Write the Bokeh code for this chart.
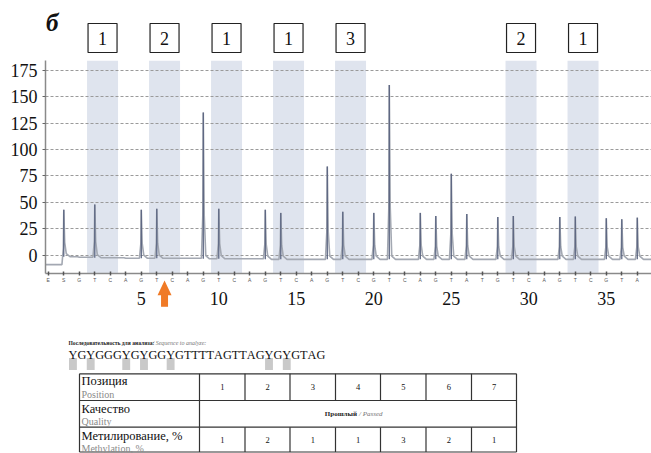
from bokeh.plotting import figure
from bokeh.layouts import column
from bokeh.models import Range1d, FixedTicker, LinearAxis, BoxAnnotation
from bokeh.core.properties import value
from bokeh.embed import file_html
from bokeh.resources import INLINE

# ---------------- data ----------------
DISP_POS = list(range(-1, 38))
DISPENSATIONS = ["E", "S",
                 "G", "T", "C", "A", "G", "T", "C", "A", "G", "T", "C", "A", "G", "T", "C", "A",
                 "G", "T", "C", "G", "T", "C", "A", "G", "T", "A", "T", "G", "T", "C", "A", "G",
                 "T", "C", "G", "T", "A"]
BASELINE = [-9, -1.5, -2, -2.5, -2.5, -3, -3, -3, -3, -3, -3.5, -3.5, -3.5, -3.5, -4, -4, -4, -4,
            -4, -4, -4, -4, -4, -4, -4, -4, -4, -4, -4, -4, -4, -4, -4, -4, -4, -4, -4, -4, -4]
PEAK_POS = [0, 2, 5, 6, 9, 10, 13, 14, 17, 18, 20, 21, 23, 24, 25, 26, 28, 29, 32, 33, 35, 36, 37]
PEAK_HEIGHT = [43, 48, 43, 44, 135, 44, 43, 40, 84, 41, 40, 161, 40, 37, 77, 39, 36, 37, 36, 36.5,
               35, 34, 35.5]
Y_TICKS = [0, 25, 50, 75, 100, 125, 150, 175]
X_TICKS = [5, 10, 15, 20, 25, 30, 35]

CPG_POSITIONS = [1, 2, 3, 4, 5, 6, 7]
CPG_T_DISP = [2, 6, 10, 14, 18, 29, 33]     # T dispensation of each C/T pair
METHYLATION = [1, 2, 1, 1, 3, 2, 1]
QUALITY_RU, QUALITY_EN = "Прошлый", "/ Passed"
SEQUENCE = "YGYGGGYGYGGYGTTTTAGTTAGYGYGTAG"
ARROW_POS = 6.5

# ---------------- layout constants ----------------
W = 651
LEFT = 45
X0 = -1.18
PXU = 15.5
X1 = X0 + (W - LEFT) / PXU
Y0, Y1 = -17.4, 184.3
COND = value("Liberation Sans Narrow")
SERIF = value("Liberation Serif")


def bare(fig):
    fig.grid.visible = False
    return fig


# ---------------- header (boxes) ----------------
ph = bare(figure(width=W, height=60, x_range=Range1d(X0, X1), y_range=Range1d(0, 60),
                 output_backend="svg", toolbar_location=None, min_border=0,
                 min_border_left=LEFT, x_axis_location=None, y_axis_location=None,
                 outline_line_color=None))
bx = [t + 0.5 for t in CPG_T_DISP]
ph.rect(x=bx, y=22.5, width=29, height=29, width_units="screen", height_units="screen",
        fill_color="white", line_color="#222222", line_width=1.2)
ph.text(x=bx, y=[22.5] * len(bx), text=[str(m) for m in METHYLATION], text_align="center",
        text_baseline="middle", text_font=COND, text_font_size="18px", text_color="#111111")
ph.text(x=[X0 + 0.5 / PXU], y=[38.5], text=["б"], text_font=SERIF, text_font_style="bold italic",
        text_font_size="25px", text_baseline="middle", text_color="#111111")

# ---------------- pyrogram ----------------
p = figure(width=W, height=247, x_range=Range1d(X0, X1), y_range=Range1d(Y0, Y1),
           output_backend="svg", toolbar_location=None, min_border_left=LEFT,
           min_border_right=0, min_border_top=0, min_border_bottom=30,
           outline_line_color=None)
p.xgrid.visible = False
p.ygrid.ticker = FixedTicker(ticks=Y_TICKS)
p.ygrid.grid_line_color = "#9a9a9a"
p.ygrid.grid_line_dash = "3 2"
p.ygrid.grid_line_width = 1
p.ygrid.level = "underlay"

for t in CPG_T_DISP:
    p.add_layout(BoxAnnotation(left=t - 0.5, right=t + 1.5, fill_color="#dfe4ee", fill_alpha=1,
                               line_color=None, level="image"))

yax = p.yaxis[0]
yax.ticker = FixedTicker(ticks=Y_TICKS)
yax.axis_line_color = "#8a8a8a"
yax.axis_line_width = 1.5
yax.major_tick_out = 3
yax.major_tick_in = 0
yax.major_tick_line_color = "#666666"
yax.minor_tick_line_color = None
yax.major_label_text_font = "Liberation Sans Narrow"
yax.major_label_text_font_size = "18px"
yax.major_label_text_color = "#111111"
yax.major_label_standoff = 5

xax = p.xaxis[0]
xax.ticker = FixedTicker(ticks=DISP_POS)
xax.major_label_overrides = {pos: d for pos, d in zip(DISP_POS, DISPENSATIONS)}
xax.axis_line_color = "#8a8a8a"
xax.axis_line_width = 1.5
xax.major_tick_in = 2
xax.major_tick_out = 2
xax.major_tick_line_color = "#555555"
xax.major_tick_line_width = 1.5
xax.minor_tick_line_color = None
xax.major_label_text_font_size = "5px"
xax.major_label_text_color = "#555555"
xax.major_label_standoff = 1

xax2 = LinearAxis(ticker=FixedTicker(ticks=X_TICKS), axis_line_color=None,
                  major_tick_line_color=None, minor_tick_line_color=None,
                  major_label_text_font="Liberation Sans Narrow",
                  major_label_text_font_size="18px", major_label_text_color="#111111",
                  major_label_standoff=0)
p.add_layout(xax2, "below")

# trace built from the peak heights
base = dict(zip(DISP_POS, BASELINE))
peaks = dict(zip(PEAK_POS, PEAK_HEIGHT))
tx, ty = [X0], [base[-1]]
prev = base[-1]
for pos in DISP_POS[1:]:
    b = base[pos]
    tx.append(pos - 0.12)
    ty.append(prev)
    if pos in peaks:
        h = peaks[pos]
        tx += [pos - 0.03, pos, pos + 0.06, pos + 0.16, pos + 0.4]
        ty += [prev + 0.3 * (h - prev), h, b + 0.3 * (h - b), b + 3, b]
    else:
        tx.append(pos)
        ty.append(b)
    prev = b
tx.append(X1)
ty.append(prev)
p.line(tx, ty, line_color="#a3a8b2", line_width=1.6)
p.segment(x0=PEAK_POS, y0=[base[q] for q in PEAK_POS], x1=PEAK_POS, y1=PEAK_HEIGHT,
          line_color="#56607e", line_width=1.2)

# orange arrow below the axis (overlay level glyph: drawn outside the frame)
aw, sw = 7 / PXU, 3.5 / PXU
p.patch(x=[ARROW_POS, ARROW_POS + aw, ARROW_POS + sw, ARROW_POS + sw,
           ARROW_POS - sw, ARROW_POS - sw, ARROW_POS - aw],
        y=[-24, -38, -38, -49, -49, -38, -38],
        fill_color="#f07a26", fill_alpha=1, line_color=None, level="overlay")
p.patch(x=[ARROW_POS + sw, ARROW_POS + sw, ARROW_POS - sw, ARROW_POS - sw],
        y=[-49, -55, -55, -49],
        fill_color="#f07a26", fill_alpha=0.45, line_color=None, level="overlay")

# ---------------- sequence + table ----------------
pl = bare(figure(width=W, height=146, x_range=Range1d(LEFT, W), y_range=Range1d(453, 307),
                 output_backend="svg", toolbar_location=None, min_border=0,
                 min_border_left=LEFT, x_axis_location=None, y_axis_location=None,
                 outline_line_color=None))

pl.text(x=[68], y=[342], text=["Последовательность для анализа:"], text_font=COND,
        text_font_style="bold", text_font_size="5.6px", text_baseline="middle",
        text_color="#222222")
pl.text(x=[152], y=[342], text=["/ Sequence to analyze:"], text_font=COND,
        text_font_style="italic", text_font_size="6px", text_baseline="middle",
        text_color="#777777")

ADV = {"Y": 0.722, "G": 0.722, "T": 0.611, "A": 0.722}
FS = 12.3
cx, xs = 68.0, []
for ch in SEQUENCE:
    xs.append(cx)
    cx += ADV[ch] * FS
ycap = 354.5
hl = [i for i, ch in enumerate(SEQUENCE) if ch == "Y"]
pl.quad(left=[xs[i] + 0.5 for i in hl], right=[xs[i] + ADV["Y"] * FS - 0.5 for i in hl],
        top=[ycap + 3] * len(hl), bottom=[ycap + 15] * len(hl),
        fill_color="#c9c9c9", line_color=None)
pl.text(x=xs, y=[ycap] * len(xs), text=list(SEQUENCE), text_font=SERIF,
        text_font_size=f"{FS}px", text_baseline="middle", text_color="#111111")

COLS = [79, 199, 244.5, 289.5, 335, 380, 425.5, 471, 516]
ROWS = [373.3, 400, 426.7, 451.5]
LC = "#333333"
pl.segment(x0=[COLS[0]] * 4, y0=ROWS, x1=[COLS[-1]] * 4, y1=ROWS, line_color=LC, line_width=1.2)
pl.segment(x0=[COLS[0], COLS[1], COLS[-1]], y0=[ROWS[0]] * 3, x1=[COLS[0], COLS[1], COLS[-1]],
           y1=[ROWS[-1]] * 3, line_color=LC, line_width=1.2)
inner = COLS[2:-1]
pl.segment(x0=inner * 2, y0=[ROWS[0]] * len(inner) + [ROWS[2]] * len(inner), x1=inner * 2,
           y1=[ROWS[1]] * len(inner) + [ROWS[3]] * len(inner), line_color=LC, line_width=1.2)

ru = ["Позиция", "Качество", "Метилирование, %"]
en = ["Position", "Quality", "Methylation, %"]
pl.text(x=[81] * 3, y=[380.7, 408.3, 435.7], text=ru, text_font=SERIF, text_font_size="12.5px",
        text_baseline="middle", text_color="#111111")
pl.text(x=[81] * 3, y=[394, 420.7, 447.7], text=en, text_font=SERIF, text_font_size="10px",
        text_baseline="middle", text_color="#8a8a8a")
cc = [(COLS[i] + COLS[i + 1]) / 2 for i in range(1, 8)]
pl.text(x=cc, y=[(ROWS[0] + ROWS[1]) / 2] * 7, text=[str(v) for v in CPG_POSITIONS],
        text_font=SERIF, text_font_size="8.5px", text_align="center", text_baseline="middle",
        text_color="#111111")
pl.text(x=cc, y=[(ROWS[2] + ROWS[3]) / 2] * 7, text=[str(v) for v in METHYLATION],
        text_font=SERIF, text_font_size="8.5px", text_align="center", text_baseline="middle",
        text_color="#111111")
mid = (COLS[1] + COLS[-1]) / 2
pl.text(x=[mid - 1], y=[(ROWS[1] + ROWS[2]) / 2], text=[QUALITY_RU], text_font=COND,
        text_font_style="bold", text_font_size="7px", text_align="right",
        text_baseline="middle", text_color="#222222")
pl.text(x=[mid + 1], y=[(ROWS[1] + ROWS[2]) / 2], text=[QUALITY_EN], text_font=COND,
        text_font_style="italic", text_font_size="7px", text_align="left",
        text_baseline="middle", text_color="#777777")

layout = column(ph, p, pl, spacing=0)
open("out.html", "w").write(file_html(layout, INLINE))
